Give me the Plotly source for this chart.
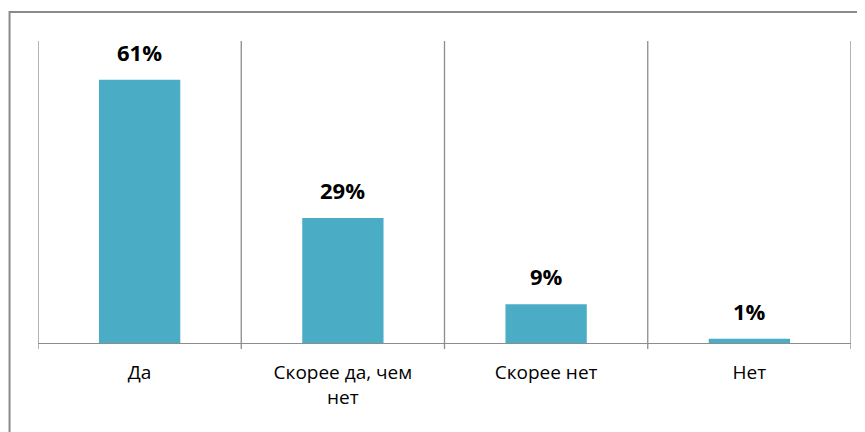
import plotly.graph_objects as go

categories = ["Да", "Скорее да, чем<br>нет", "Скорее нет", "Нет"]
values = [61, 29, 9, 1]
labels = ["61%", "29%", "9%", "1%"]

FONT = "Open Sans"
GRID = "#8c8c8c"

fig = go.Figure()
fig.add_trace(go.Bar(
    x=list(range(len(categories))), y=values,
    marker=dict(color="#4BACC6", line=dict(width=0)),
    width=0.4, hoverinfo="skip",
))

for i, (v, t) in enumerate(zip(values, labels)):
    fig.add_annotation(x=i, y=v, text="<b>%s</b>" % t, showarrow=False,
                       yanchor="bottom", yshift=11,
                       font=dict(family=FONT, size=22, color="#000000"))

shapes = []
for b in [-0.5, 0.5, 1.5, 2.5, 3.5]:
    shapes.append(dict(type="line", xref="x", yref="paper", x0=b, x1=b, y0=-0.02, y1=1,
                       line=dict(color=GRID, width=1.3)))
# outer chart border (extends past the right and bottom edges)
shapes.append(dict(type="rect", xref="paper", yref="paper", x0=-0.035, x1=2, y0=-2, y1=1.096,
                   line=dict(color="#8a8a8a", width=2), fillcolor="rgba(0,0,0,0)", layer="below"))

fig.update_layout(
    width=865, height=432,
    margin=dict(l=30, r=22, t=33, b=97),
    paper_bgcolor="white", plot_bgcolor="white",
    showlegend=False, bargap=0.6,
    font=dict(family=FONT, size=19, color="#000000"),
    shapes=shapes,
    xaxis=dict(range=[-0.5, 3.5], tickmode="array", tickvals=list(range(len(categories))),
               ticktext=categories, showgrid=False, zeroline=False,
               showline=True, linecolor=GRID, linewidth=1.3, ticks="",
               ticklabelstandoff=12, fixedrange=True),
    yaxis=dict(range=[0, 70], visible=False, fixedrange=True),
)

fig.write_html("out.html")
